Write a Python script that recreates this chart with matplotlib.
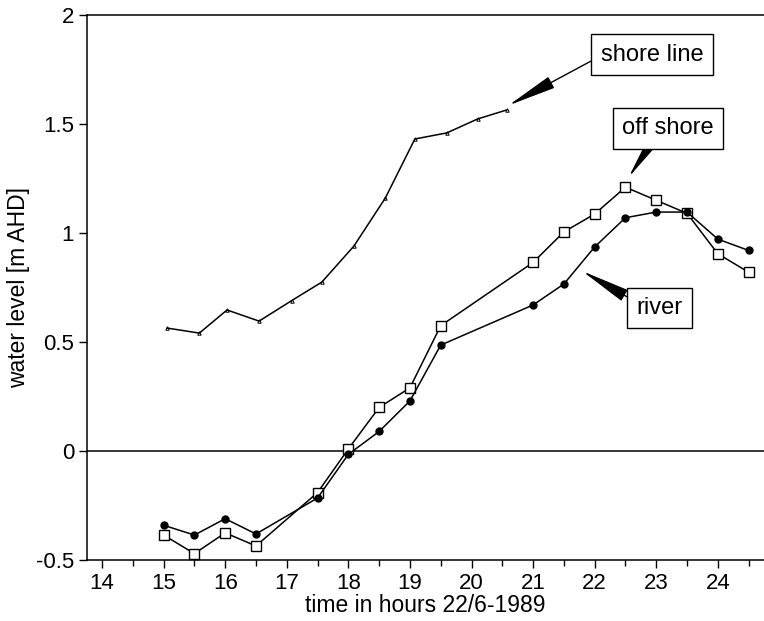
import numpy as np
import matplotlib
matplotlib.use("Agg")
import matplotlib.pyplot as plt
from matplotlib.ticker import MultipleLocator

plt.rcParams['font.family'] = ['Liberation Sans', 'DejaVu Sans']

# water levels [m AHD], 22 June 1989
t_sea = [15, 15.5, 16, 16.5, 17.5, 18, 18.5, 19, 19.5, 21, 21.5, 22, 22.5, 23, 23.5, 24, 24.5]
off_shore = [-0.385, -0.47, -0.375, -0.435, -0.19, 0.01, 0.20, 0.29, 0.575, 0.865,
             1.005, 1.087, 1.21, 1.15, 1.09, 0.905, 0.82]
river = [-0.34, -0.385, -0.31, -0.38, -0.215, -0.015, 0.09, 0.23, 0.486, 0.67,
         0.766, 0.936, 1.07, 1.096, 1.096, 0.972, 0.92]

t_shore = [15.06, 15.58, 16.03, 16.55, 17.08, 17.57, 18.09, 18.6, 19.08, 19.6, 20.1, 20.57]
shore_line = [0.564, 0.541, 0.647, 0.596, 0.69, 0.775, 0.94, 1.16, 1.431, 1.459, 1.523, 1.564]

hours = list(range(14, 25))
levels = [-0.5, 0, 0.5, 1, 1.5, 2]
level_labels = ['-0.5', '0', '0.5', '1', '1.5', '2']

fig = plt.figure(figsize=(7.64, 6.21), dpi=100)
ax = fig.add_axes([0.1134, 0.098, 0.8866, 0.878])

ax.plot(t_shore, shore_line, color='black', lw=1.1, marker='^', ms=2.5,
        mfc='none', mec='black', mew=0.7)
ax.plot(t_sea, off_shore, color='black', lw=1.1, marker='s', ms=6.5,
        mfc='white', mec='black', mew=1.0, zorder=3)
ax.plot(t_sea, river, color='black', lw=1.1, marker='o', ms=5,
        mfc='black', mec='black', zorder=4)

ax.axhline(0, color='black', lw=1.1, zorder=1)

ax.set_xlim(13.75, 24.75)
ax.set_ylim(-0.5, 2)
ax.set_xticks(hours)
ax.xaxis.set_minor_locator(MultipleLocator(0.5))
ax.set_yticks(levels)
ax.set_yticklabels(level_labels)

ax.spines['right'].set_visible(False)
for s in ['left', 'top', 'bottom']:
    ax.spines[s].set_linewidth(1.1)
ax.tick_params(which='major', direction='out', length=6, width=1, labelsize=16, pad=3)
ax.tick_params(which='minor', direction='out', length=4, width=1)
ax.tick_params(axis='y', which='minor', left=False)

ax.set_xlabel('time in hours 22/6-1989', fontsize=16.5, labelpad=0)
ax.set_ylabel('water level [m AHD]', fontsize=16.5, labelpad=4)

# labelled arrows pointing at each curve
box = dict(boxstyle='square,pad=0.4', fc='white', ec='black', lw=1)
arrow = dict(arrowstyle='-|>,head_length=1.7,head_width=0.22', color='black',
             lw=1, shrinkA=0, shrinkB=0, mutation_scale=18)

ax.annotate('shore line', xy=(20.6, 1.585), xytext=(22.93, 1.817),
            fontsize=17, ha='center', va='center', bbox=box,
            arrowprops=dict(arrow, relpos=(0, 0.45)))
ax.annotate('off shore', xy=(22.55, 1.255), xytext=(23.19, 1.48),
            fontsize=17, ha='center', va='center', bbox=box,
            arrowprops=dict(arrow, relpos=(0.35, 0)))
ax.annotate('river', xy=(21.8, 0.825), xytext=(23.06, 0.656),
            fontsize=17, ha='center', va='center', bbox=box,
            arrowprops=dict(arrow, relpos=(0, 0.75)))

fig.savefig('out.png', dpi=100)
